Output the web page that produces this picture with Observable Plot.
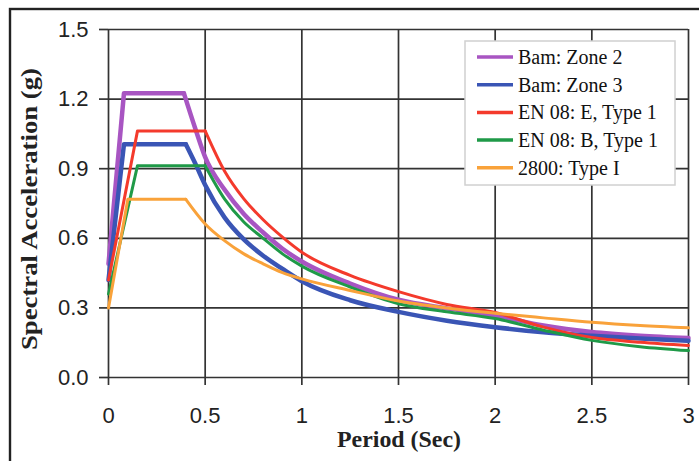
<!DOCTYPE html>
<html><head><meta charset="utf-8">
<script src="https://cdn.jsdelivr.net/npm/d3@7"></script>
<script src="https://cdn.jsdelivr.net/npm/@observablehq/plot@0.6"></script>
<style>
body{margin:0;background:#fff;}
#chart svg{display:block;overflow:hidden;}
#chart [aria-label$="tick"], #chart .tick line{stroke-width:1.7px;stroke:#333;}
</style></head><body><div id="chart"></div>
<script>
const seriesNames = ["Bam: Zone 2", "Bam: Zone 3", "EN 08: E, Type 1", "EN 08: B, Type 1", "2800: Type I"];
const seriesColors = ["#a855c2", "#3a55b5", "#f43a2c", "#1f9a48", "#f9a23a"];
const seriesWidths = [4.5, 4.5, 3, 3, 3];

const periodBam2 = [0, 0.08, 0.39, 0.45, 0.5, 0.6, 0.7, 0.8, 0.9, 1.0, 1.25, 1.5, 1.75, 2.0, 2.25, 2.5, 2.75, 3.0];
const valueBam2  = [0.49, 1.225, 1.225, 1.07, 0.95, 0.81, 0.705, 0.625, 0.555, 0.5, 0.405, 0.335, 0.298, 0.267, 0.224, 0.196, 0.18, 0.17];

const periodBam3 = [0, 0.08, 0.4, 0.45, 0.5, 0.6, 0.7, 0.8, 0.9, 1.0, 1.25, 1.5, 1.75, 2.0, 2.25, 2.5, 2.75, 3.0];
const valueBam3  = [0.42, 1.005, 1.005, 0.92, 0.83, 0.69, 0.595, 0.525, 0.468, 0.415, 0.333, 0.283, 0.245, 0.217, 0.195, 0.18, 0.168, 0.158];

const periodENE = [0, 0.15, 0.5, 0.6, 0.7, 0.8, 0.9, 1.0, 1.25, 1.5, 1.75, 2.0, 2.25, 2.5, 2.75, 3.0];
const valueENE  = [0.42, 1.063, 1.063, 0.89, 0.77, 0.68, 0.605, 0.54, 0.44, 0.37, 0.315, 0.28, 0.217, 0.172, 0.152, 0.138];

const periodENB = [0, 0.15, 0.5, 0.6, 0.7, 0.8, 0.9, 1.0, 1.25, 1.5, 1.75, 2.0, 2.25, 2.5, 2.75, 3.0];
const valueENB  = [0.36, 0.913, 0.913, 0.77, 0.67, 0.6, 0.533, 0.48, 0.39, 0.318, 0.283, 0.254, 0.204, 0.16, 0.133, 0.116];

const period2800 = [0, 0.1, 0.4, 0.5, 0.6, 0.7, 0.8, 0.9, 1.0, 1.25, 1.5, 1.75, 2.0, 2.25, 2.5, 2.75, 3.0];
const value2800  = [0.30, 0.768, 0.768, 0.662, 0.59, 0.533, 0.49, 0.452, 0.425, 0.375, 0.33, 0.3, 0.277, 0.257, 0.238, 0.224, 0.214];

const xTicks = [0, 0.5, 1, 1.5, 2, 2.5, 3];
const xTickLabels = ["0", "0.5", "1", "1.5", "2", "2.5", "3"];
const yTicks = [0, 0.3, 0.6, 0.9, 1.2, 1.5];
const yTickLabels = ["0.0", "0.3", "0.6", "0.9", "1.2", "1.5"];
const xTitle = "Period (Sec)";
const yTitle = "Spectral Acceleration (g)";

const periods = [periodBam2, periodBam3, periodENE, periodENB, period2800];
const values = [valueBam2, valueBam3, valueENE, valueENB, value2800];
const rows = periods.map((ps, i) => ps.map((t, j) => ({series: seriesNames[i], T: t, v: values[i][j]})));
const plateauEnd = 2; // index of the last plateau point in every series

const W = 699, H = 461, mL = 108, mR = 11, mT = 29, mB = 84;

const lineMarks = [];
rows.forEach((r, i) => {
  lineMarks.push(Plot.line(r.slice(0, plateauEnd + 1), {x: "T", y: "v", stroke: seriesColors[i], strokeWidth: seriesWidths[i], strokeLinejoin: "round", strokeLinecap: "round"}));
  lineMarks.push(Plot.line(r.slice(plateauEnd), {x: "T", y: "v", curve: "monotone-x", stroke: seriesColors[i], strokeWidth: seriesWidths[i], strokeLinejoin: "round", strokeLinecap: "round"}));
});

const chart = Plot.plot({
  width: W, height: H,
  marginLeft: mL, marginRight: mR, marginTop: mT, marginBottom: mB,
  style: {fontFamily: "'Liberation Sans', Arial, sans-serif", fontSize: "22px", color: "#222", background: "#fff", overflow: "hidden"},
  x: {domain: [0, 3], ticks: xTicks, tickSize: 8, tickPadding: 22, label: null,
      tickFormat: d => xTickLabels[xTicks.indexOf(d)]},
  y: {domain: [0, 1.5], ticks: yTicks, tickSize: 9, tickPadding: 11, label: null,
      tickFormat: d => yTickLabels[yTicks.indexOf(d)]},
  marks: [
    Plot.ruleX(xTicks, {stroke: "#333", strokeWidth: 1.7}),
    Plot.ruleY(yTicks, {stroke: "#333", strokeWidth: 1.7}),
    ...lineMarks
  ]
});
document.getElementById("chart").appendChild(chart);

const svg = d3.select(chart);
// outer frame
svg.append("rect").attr("x", 10).attr("y", 9).attr("width", 800).attr("height", 600)
  .attr("fill", "none").attr("stroke", "#222").attr("stroke-width", 2.4);

// axis titles
svg.append("text").text(yTitle)
  .attr("transform", "translate(37,209) rotate(-90)")
  .attr("text-anchor", "middle")
  .attr("font-family", "'Liberation Serif', 'Times New Roman', serif")
  .attr("font-weight", "bold").attr("font-size", 22.5).attr("fill", "#222")
  .attr("textLength", 282).attr("lengthAdjust", "spacingAndGlyphs");
svg.append("text").text(xTitle)
  .attr("x", 399).attr("y", 447)
  .attr("text-anchor", "middle")
  .attr("font-family", "'Liberation Serif', 'Times New Roman', serif")
  .attr("font-weight", "bold").attr("font-size", 22.5).attr("fill", "#222")
  .attr("textLength", 124).attr("lengthAdjust", "spacingAndGlyphs");

// legend
const lg = svg.append("g");
lg.append("rect").attr("x", 465).attr("y", 41).attr("width", 210).attr("height", 144)
  .attr("fill", "#fff").attr("stroke", "#d0d0d0").attr("stroke-width", 1.5);
seriesNames.forEach((name, i) => {
  const cy = 57 + i * 27.7;
  lg.append("line").attr("x1", 477).attr("x2", 513).attr("y1", cy).attr("y2", cy)
    .attr("stroke", seriesColors[i]).attr("stroke-width", 3.5);
  lg.append("text").text(name).attr("x", 518).attr("y", cy + 7)
    .attr("text-anchor", "start")
    .attr("font-family", "'Liberation Serif', 'Times New Roman', serif")
    .attr("font-size", 20).attr("fill", "#111");
});
</script></body></html>
